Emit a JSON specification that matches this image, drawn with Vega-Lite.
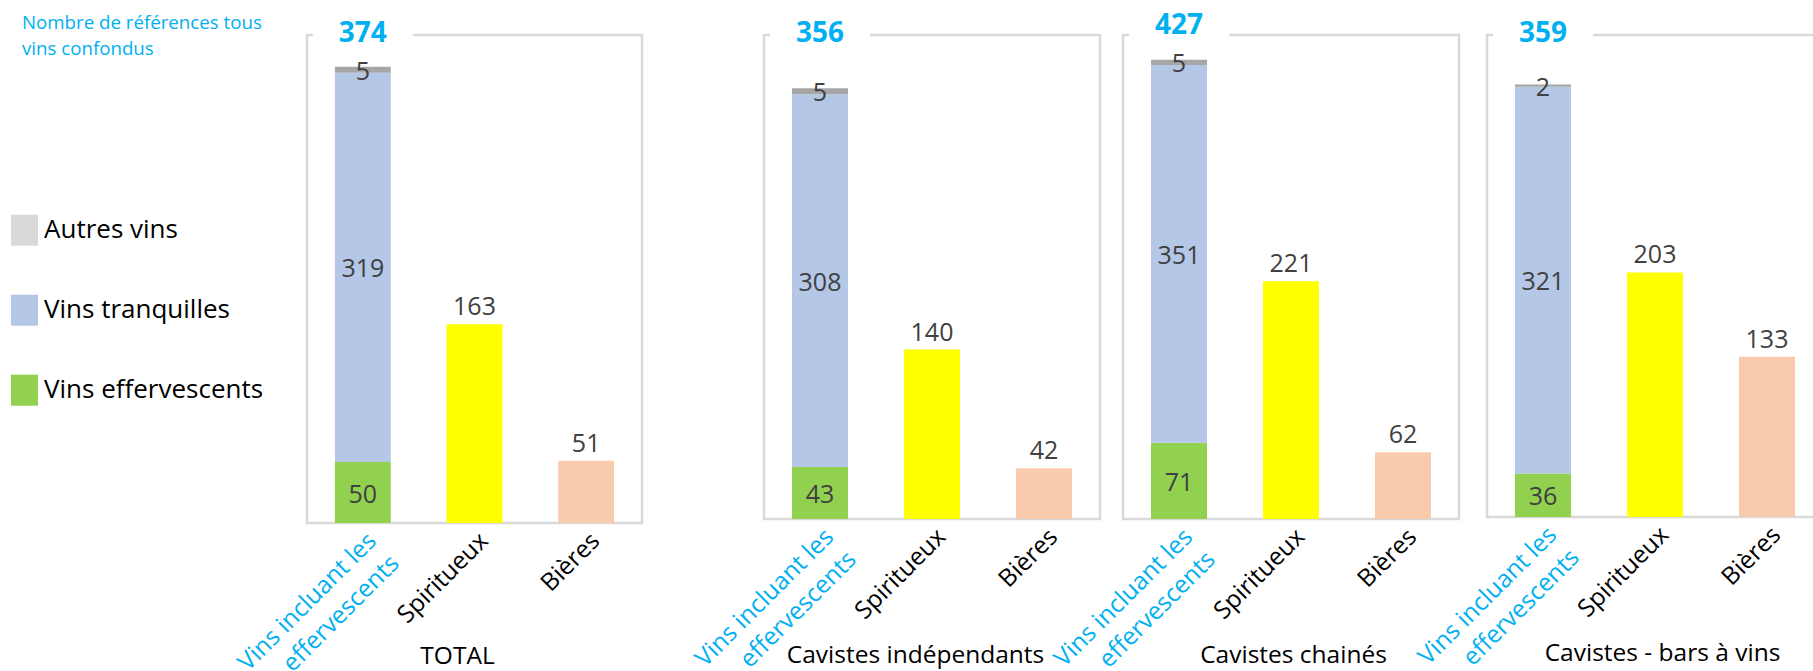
{
  "$schema": "https://vega.github.io/schema/vega-lite/v6.json",
  "autosize": {"type": "none"},
  "padding": {"left": 307, "top": 35, "right": 1506, "bottom": 636},
  "background": "white",
  "config": {
    "font": "Open Sans",
    "view": {"stroke": "#D9D9D9", "strokeWidth": 2.5},
    "text": {"font": "Open Sans", "fontSize": 25, "color": "#404040"},
    "axisX": {
      "domain": false, "ticks": false, "labelAngle": -45, "labelFontSize": 24.5, "labelFont": "Open Sans",
      "labelPadding": 14, "labelOffset": 10, "labelLineHeight": 32, "labelOverlap": false, "labelBound": false, "labelLimit": 400,
      "labelBaseline": "middle", "labelAlign": "right",
      "titleFontSize": 24.5, "titleFont": "Open Sans", "titleFontWeight": "normal", "titleColor": "black", "titleBaseline": "alphabetic"
    },
    "legend": {
      "orient": "none", "legendX": -285, "legendY": -21, "padding": 0,
      "titleColor": "#00B0F0", "titleFontSize": 18.7, "titleFont": "Open Sans", "titleFontWeight": "normal", "titleLineHeight": 26,
      "titlePadding": 156, "titleAnchor": "start", "titleLimit": 400,
      "symbolType": "M-0.87,-1H0.87V1H-0.87Z", "symbolSize": 961, "symbolOffset": -13, "symbolStrokeWidth": 0, "symbolOpacity": 1,
      "labelFontSize": 26, "labelFont": "Open Sans", "labelColor": "black", "labelOffset": 4, "rowPadding": 49, "labelLimit": 400
    }
  },
  "data": {"values": [
    {"panel": "TOTAL", "cat": "Vins incluant les effervescents", "type": "Vins effervescents", "value": 50},
    {"panel": "TOTAL", "cat": "Vins incluant les effervescents", "type": "Vins tranquilles", "value": 319},
    {"panel": "TOTAL", "cat": "Vins incluant les effervescents", "type": "Autres vins", "value": 5},
    {"panel": "TOTAL", "cat": "Spiritueux", "type": "Spiritueux", "value": 163},
    {"panel": "TOTAL", "cat": "Bières", "type": "Bières", "value": 51},
    {"panel": "Cavistes indépendants", "cat": "Vins incluant les effervescents", "type": "Vins effervescents", "value": 43},
    {"panel": "Cavistes indépendants", "cat": "Vins incluant les effervescents", "type": "Vins tranquilles", "value": 308},
    {"panel": "Cavistes indépendants", "cat": "Vins incluant les effervescents", "type": "Autres vins", "value": 5},
    {"panel": "Cavistes indépendants", "cat": "Spiritueux", "type": "Spiritueux", "value": 140},
    {"panel": "Cavistes indépendants", "cat": "Bières", "type": "Bières", "value": 42},
    {"panel": "Cavistes chainés", "cat": "Vins incluant les effervescents", "type": "Vins effervescents", "value": 71},
    {"panel": "Cavistes chainés", "cat": "Vins incluant les effervescents", "type": "Vins tranquilles", "value": 351},
    {"panel": "Cavistes chainés", "cat": "Vins incluant les effervescents", "type": "Autres vins", "value": 5},
    {"panel": "Cavistes chainés", "cat": "Spiritueux", "type": "Spiritueux", "value": 221},
    {"panel": "Cavistes chainés", "cat": "Bières", "type": "Bières", "value": 62},
    {"panel": "Cavistes - bars à vins", "cat": "Vins incluant les effervescents", "type": "Vins effervescents", "value": 36},
    {"panel": "Cavistes - bars à vins", "cat": "Vins incluant les effervescents", "type": "Vins tranquilles", "value": 321},
    {"panel": "Cavistes - bars à vins", "cat": "Vins incluant les effervescents", "type": "Autres vins", "value": 2},
    {"panel": "Cavistes - bars à vins", "cat": "Spiritueux", "type": "Spiritueux", "value": 203},
    {"panel": "Cavistes - bars à vins", "cat": "Bières", "type": "Bières", "value": 133}
  ]},
  "bounds": "flush",
  "spacing": 122,
  "resolve": {"scale": {"color": "shared"}, "legend": {"color": "shared"}},
  "hconcat": [
    {
      "width": 335, "height": 488,
      "transform": [{"filter": "datum.panel === 'TOTAL'"}, {"calculate": "indexof(['Vins effervescents','Vins tranquilles','Autres vins','Spiritueux','Bières'], datum.type)", "as": "ord"}],
      "encoding": {
        "x": {"field": "cat", "type": "nominal", "sort": ["Vins incluant les effervescents", "Spiritueux", "Bières"],
          "scale": {"paddingInner": 0.5, "paddingOuter": 0.25},
          "axis": {"title": "TOTAL", "titleX": 150, "titleY": 140,
            "labelExpr": "datum.value === 'Vins incluant les effervescents' ? ['Vins incluant les', 'effervescents'] : datum.value",
            "labelColor": {"condition": {"test": "datum.value === 'Vins incluant les effervescents'", "value": "#00B0F0"}, "value": "black"}}}
      },
      "layer": [
        {"mark": {"type": "bar"},
          "encoding": {
            "y": {"field": "value", "type": "quantitative", "stack": "zero", "scale": {"domain": [0, 400], "nice": false}, "axis": null},
            "color": {"condition": {"test": "datum.type === 'Autres vins'", "value": "#A6A6A6"},
              "field": "type", "type": "nominal",
              "scale": {"domain": ["Autres vins", "Vins tranquilles", "Vins effervescents", "Spiritueux", "Bières"], "range": ["#D9D9D9", "#B4C7E7", "#92D050", "#FFFF00", "#F8CBAD"]},
              "legend": {"title": ["Nombre de références tous", "vins confondus"], "values": ["Autres vins", "Vins tranquilles", "Vins effervescents"]}},
            "order": {"field": "ord"}}},
        {"transform": [{"filter": "datum.cat === 'Vins incluant les effervescents'"}, {"stack": "value", "groupby": ["cat"], "sort": [{"field": "ord"}], "as": ["v0", "v1"]}, {"calculate": "(datum.v0 + datum.v1) / 2", "as": "mid"}],
          "mark": {"type": "text", "baseline": "middle", "dy": 2},
          "encoding": {"y": {"field": "mid", "type": "quantitative", "axis": null}, "text": {"field": "value"}}},
        {"transform": [{"filter": "datum.cat !== 'Vins incluant les effervescents'"}],
          "mark": {"type": "text", "baseline": "alphabetic", "dy": -9},
          "encoding": {"y": {"field": "value", "type": "quantitative", "axis": null}, "text": {"field": "value"}}},
        {"transform": [{"filter": "datum.type === 'Vins effervescents'"}],
          "mark": {"type": "tick", "color": "white", "opacity": 1, "size": 100, "thickness": 6},
          "encoding": {"y": {"datum": 400, "axis": null}}},
        {"transform": [{"filter": "datum.cat === 'Vins incluant les effervescents'"}, {"aggregate": [{"op": "sum", "field": "value", "as": "total"}], "groupby": ["cat"]}],
          "mark": {"type": "text", "fontWeight": "bold", "color": "#00B0F0", "fontSize": 28, "baseline": "alphabetic", "dy": 7},
          "encoding": {"y": {"datum": 400, "axis": null}, "text": {"field": "total"}}}
      ]
    },
    {
      "bounds": "flush",
      "spacing": 23,
      "resolve": {"scale": {"color": "shared"}, "legend": {"color": "shared"}},
      "hconcat": [
        {
          "width": 336, "height": 484,
          "transform": [{"filter": "datum.panel === 'Cavistes indépendants'"}, {"calculate": "indexof(['Vins effervescents','Vins tranquilles','Autres vins','Spiritueux','Bières'], datum.type)", "as": "ord"}],
          "encoding": {
            "x": {"field": "cat", "type": "nominal", "sort": ["Vins incluant les effervescents", "Spiritueux", "Bières"],
              "scale": {"paddingInner": 0.5, "paddingOuter": 0.25},
              "axis": {"title": "Cavistes indépendants", "titleX": 151, "titleY": 143,
                "labelExpr": "datum.value === 'Vins incluant les effervescents' ? ['Vins incluant les', 'effervescents'] : datum.value",
                "labelColor": {"condition": {"test": "datum.value === 'Vins incluant les effervescents'", "value": "#00B0F0"}, "value": "black"}}}
          },
          "layer": [
            {"mark": {"type": "bar"},
              "encoding": {
                "y": {"field": "value", "type": "quantitative", "stack": "zero", "scale": {"domain": [0, 400], "nice": false}, "axis": null},
                "color": {"condition": {"test": "datum.type === 'Autres vins'", "value": "#A6A6A6"},
                  "field": "type", "type": "nominal",
                  "scale": {"domain": ["Autres vins", "Vins tranquilles", "Vins effervescents", "Spiritueux", "Bières"], "range": ["#D9D9D9", "#B4C7E7", "#92D050", "#FFFF00", "#F8CBAD"]},
                  "legend": {"title": ["Nombre de références tous", "vins confondus"], "values": ["Autres vins", "Vins tranquilles", "Vins effervescents"]}},
                "order": {"field": "ord"}}},
            {"transform": [{"filter": "datum.cat === 'Vins incluant les effervescents'"}, {"stack": "value", "groupby": ["cat"], "sort": [{"field": "ord"}], "as": ["v0", "v1"]}, {"calculate": "(datum.v0 + datum.v1) / 2", "as": "mid"}],
              "mark": {"type": "text", "baseline": "middle", "dy": 2},
              "encoding": {"y": {"field": "mid", "type": "quantitative", "axis": null}, "text": {"field": "value"}}},
            {"transform": [{"filter": "datum.cat !== 'Vins incluant les effervescents'"}],
              "mark": {"type": "text", "baseline": "alphabetic", "dy": -9},
              "encoding": {"y": {"field": "value", "type": "quantitative", "axis": null}, "text": {"field": "value"}}},
            {"transform": [{"filter": "datum.type === 'Vins effervescents'"}],
              "mark": {"type": "tick", "color": "white", "opacity": 1, "size": 100, "thickness": 6},
              "encoding": {"y": {"datum": 400, "axis": null}}},
            {"transform": [{"filter": "datum.cat === 'Vins incluant les effervescents'"}, {"aggregate": [{"op": "sum", "field": "value", "as": "total"}], "groupby": ["cat"]}],
              "mark": {"type": "text", "fontWeight": "bold", "color": "#00B0F0", "fontSize": 28, "baseline": "alphabetic", "dy": 7},
              "encoding": {"y": {"datum": 400, "axis": null}, "text": {"field": "total"}}}
          ]
        },
        {
          "bounds": "flush",
          "spacing": 28,
          "resolve": {"scale": {"color": "shared"}, "legend": {"color": "shared"}},
          "hconcat": [
            {
              "width": 336, "height": 484,
              "transform": [{"filter": "datum.panel === 'Cavistes chainés'"}, {"calculate": "indexof(['Vins effervescents','Vins tranquilles','Autres vins','Spiritueux','Bières'], datum.type)", "as": "ord"}],
              "encoding": {
                "x": {"field": "cat", "type": "nominal", "sort": ["Vins incluant les effervescents", "Spiritueux", "Bières"],
                  "scale": {"paddingInner": 0.5, "paddingOuter": 0.25},
                  "axis": {"title": "Cavistes chainés", "titleX": 170, "titleY": 143,
                    "labelExpr": "datum.value === 'Vins incluant les effervescents' ? ['Vins incluant les', 'effervescents'] : datum.value",
                    "labelColor": {"condition": {"test": "datum.value === 'Vins incluant les effervescents'", "value": "#00B0F0"}, "value": "black"}}}
              },
              "layer": [
                {"mark": {"type": "bar"},
                  "encoding": {
                    "y": {"field": "value", "type": "quantitative", "stack": "zero", "scale": {"domain": [0, 450], "nice": false}, "axis": null},
                    "color": {"condition": {"test": "datum.type === 'Autres vins'", "value": "#A6A6A6"},
                      "field": "type", "type": "nominal",
                      "scale": {"domain": ["Autres vins", "Vins tranquilles", "Vins effervescents", "Spiritueux", "Bières"], "range": ["#D9D9D9", "#B4C7E7", "#92D050", "#FFFF00", "#F8CBAD"]},
                      "legend": {"title": ["Nombre de références tous", "vins confondus"], "values": ["Autres vins", "Vins tranquilles", "Vins effervescents"]}},
                    "order": {"field": "ord"}}},
                {"transform": [{"filter": "datum.cat === 'Vins incluant les effervescents'"}, {"stack": "value", "groupby": ["cat"], "sort": [{"field": "ord"}], "as": ["v0", "v1"]}, {"calculate": "(datum.v0 + datum.v1) / 2", "as": "mid"}],
                  "mark": {"type": "text", "baseline": "middle", "dy": 2},
                  "encoding": {"y": {"field": "mid", "type": "quantitative", "axis": null}, "text": {"field": "value"}}},
                {"transform": [{"filter": "datum.cat !== 'Vins incluant les effervescents'"}],
                  "mark": {"type": "text", "baseline": "alphabetic", "dy": -9},
                  "encoding": {"y": {"field": "value", "type": "quantitative", "axis": null}, "text": {"field": "value"}}},
                {"transform": [{"filter": "datum.type === 'Vins effervescents'"}],
                  "mark": {"type": "tick", "color": "white", "opacity": 1, "size": 100, "thickness": 6},
                  "encoding": {"y": {"datum": 450, "axis": null}}},
                {"transform": [{"filter": "datum.cat === 'Vins incluant les effervescents'"}, {"aggregate": [{"op": "sum", "field": "value", "as": "total"}], "groupby": ["cat"]}],
                  "mark": {"type": "text", "fontWeight": "bold", "color": "#00B0F0", "fontSize": 28, "baseline": "alphabetic", "dy": -1},
                  "encoding": {"y": {"datum": 450, "axis": null}, "text": {"field": "total"}}}
              ]
            },
            {
              "width": 336, "height": 482,
              "transform": [{"filter": "datum.panel === 'Cavistes - bars à vins'"}, {"calculate": "indexof(['Vins effervescents','Vins tranquilles','Autres vins','Spiritueux','Bières'], datum.type)", "as": "ord"}],
              "encoding": {
                "x": {"field": "cat", "type": "nominal", "sort": ["Vins incluant les effervescents", "Spiritueux", "Bières"],
                  "scale": {"paddingInner": 0.5, "paddingOuter": 0.25},
                  "axis": {"title": "Cavistes - bars à vins", "titleX": 175, "titleY": 143,
                    "labelExpr": "datum.value === 'Vins incluant les effervescents' ? ['Vins incluant les', 'effervescents'] : datum.value",
                    "labelColor": {"condition": {"test": "datum.value === 'Vins incluant les effervescents'", "value": "#00B0F0"}, "value": "black"}}}
              },
              "layer": [
                {"mark": {"type": "bar"},
                  "encoding": {
                    "y": {"field": "value", "type": "quantitative", "stack": "zero", "scale": {"domain": [0, 400], "nice": false}, "axis": null},
                    "color": {"condition": {"test": "datum.type === 'Autres vins'", "value": "#A6A6A6"},
                      "field": "type", "type": "nominal",
                      "scale": {"domain": ["Autres vins", "Vins tranquilles", "Vins effervescents", "Spiritueux", "Bières"], "range": ["#D9D9D9", "#B4C7E7", "#92D050", "#FFFF00", "#F8CBAD"]},
                      "legend": {"title": ["Nombre de références tous", "vins confondus"], "values": ["Autres vins", "Vins tranquilles", "Vins effervescents"]}},
                    "order": {"field": "ord"}}},
                {"transform": [{"filter": "datum.cat === 'Vins incluant les effervescents'"}, {"stack": "value", "groupby": ["cat"], "sort": [{"field": "ord"}], "as": ["v0", "v1"]}, {"calculate": "(datum.v0 + datum.v1) / 2", "as": "mid"}],
                  "mark": {"type": "text", "baseline": "middle", "dy": 2},
                  "encoding": {"y": {"field": "mid", "type": "quantitative", "axis": null}, "text": {"field": "value"}}},
                {"transform": [{"filter": "datum.cat !== 'Vins incluant les effervescents'"}],
                  "mark": {"type": "text", "baseline": "alphabetic", "dy": -9},
                  "encoding": {"y": {"field": "value", "type": "quantitative", "axis": null}, "text": {"field": "value"}}},
                {"transform": [{"filter": "datum.type === 'Vins effervescents'"}],
                  "mark": {"type": "tick", "color": "white", "opacity": 1, "size": 100, "thickness": 6},
                  "encoding": {"y": {"datum": 400, "axis": null}}},
                {"transform": [{"filter": "datum.cat === 'Vins incluant les effervescents'"}, {"aggregate": [{"op": "sum", "field": "value", "as": "total"}], "groupby": ["cat"]}],
                  "mark": {"type": "text", "fontWeight": "bold", "color": "#00B0F0", "fontSize": 28, "baseline": "alphabetic", "dy": 7},
                  "encoding": {"y": {"datum": 400, "axis": null}, "text": {"field": "total"}}}
              ]
            }
          ]
        }
      ]
    }
  ]
}
